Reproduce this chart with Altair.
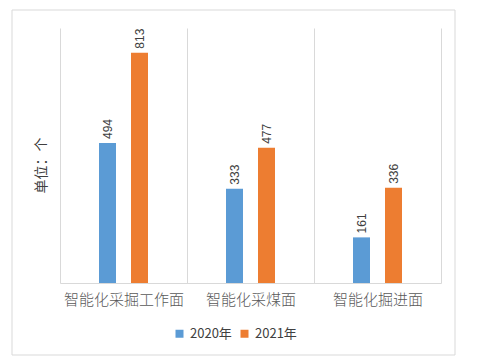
import altair as alt
import pandas as pd

categories = ["智能化采掘工作面", "智能化采煤面", "智能化掘进面"]
years = ["2020年", "2021年"]
values_2020 = [494, 333, 161]
values_2021 = [813, 477, 336]
colors = ["#5B9BD5", "#ED7D31"]

rows = []
for c, v0, v1 in zip(categories, values_2020, values_2021):
    rows.append({"cat": c, "year": years[0], "value": v0})
    rows.append({"cat": c, "year": years[1], "value": v1})
df = pd.DataFrame(rows)

W, H = 381, 255
FONT = "Noto Sans CJK SC"

x_enc = alt.X("cat:N", sort=categories, title=None,
              scale=alt.Scale(paddingInner=0, paddingOuter=0),
              axis=alt.Axis(grid=True, tickBand="extent", gridColor="#d9d9d9",
                            domainColor="#d9d9d9", ticks=False, labelAngle=0,
                            labelFontSize=15, labelColor="#595959", labelFont=FONT,
                            labelFontWeight=300, labelPadding=9))
y_enc = alt.Y("value:Q", scale=alt.Scale(domain=[0, 900]),
              axis=alt.Axis(title="单位：个", labels=False, ticks=False, domain=False,
                            grid=False, titleFontSize=14, titleFont=FONT,
                            titleColor="#404040", titleFontWeight="normal",
                            titlePadding=12, titleY=137))
xo = alt.XOffset("year:N", sort=years,
                 scale=alt.Scale(range=[39, 88], paddingInner=0.46875, paddingOuter=0))
color = alt.Color("year:N", sort=years, scale=alt.Scale(domain=years, range=colors),
                  legend=alt.Legend(title=None, orient="none", direction="horizontal",
                                    legendX=113, legendY=299, symbolType="square",
                                    symbolSize=64, symbolStrokeWidth=0,
                                    labelFontSize=13, labelFont=FONT,
                                    labelColor="#404040", columnPadding=6))

base = alt.Chart(df)
bars = base.mark_bar().encode(x=x_enc, xOffset=xo, y=y_enc, color=color)
labels = base.mark_text(angle=270, align="left", baseline="middle", dx=4,
                        fontSize=12, font="Liberation Sans", color="#404040").encode(
    x=alt.X("cat:N", sort=categories), xOffset=xo, y="value:Q", text="value:Q")

border = alt.Chart(pd.DataFrame({"a": [0]})).mark_rect(
    fill=None, stroke="#d9d9d9", strokeWidth=1).encode(
    x=alt.value(-48), x2=alt.value(395), y=alt.value(-18), y2=alt.value(327))

chart = alt.layer(border, bars, labels).properties(
    width=W, height=H,
    autosize=alt.AutoSizeParams(type="none"),
    padding={"left": 52, "top": 20, "right": 20, "bottom": 76},
).configure_view(stroke=None)

chart.save("out.html", embed_options={"renderer": "svg", "actions": False})
